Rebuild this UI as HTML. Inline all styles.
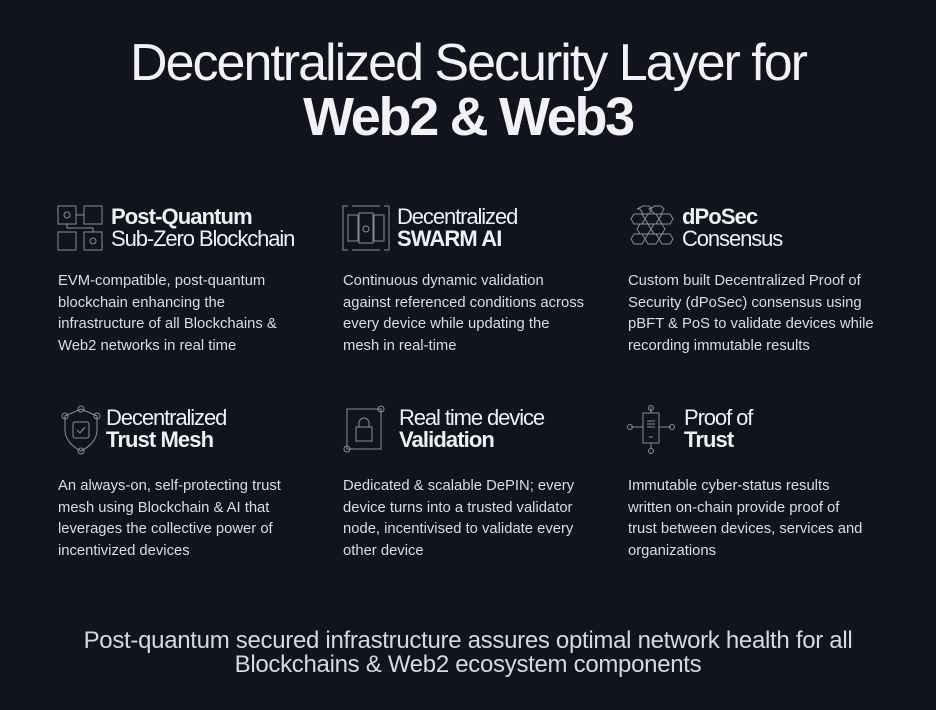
<!DOCTYPE html>
<html><head><style>
body{margin:0;width:936px;height:710px;background:#12141d;overflow:hidden;font-family:"Liberation Sans",sans-serif;color:#e8e9ee;position:relative}
.a{position:absolute}
.t1{top:33px;left:0;width:936px;text-align:center;font-size:52px;letter-spacing:-2px;color:#f2f2f4;font-weight:normal}
.t2{top:86px;left:0;width:936px;text-align:center;font-size:54px;font-weight:bold;letter-spacing:-2.3px;color:#f2f2f4}
.h{font-size:22px;line-height:22px;letter-spacing:-1.1px;color:#eef0f4}
.h b{letter-spacing:-0.9px}
.p{font-size:14.8px;line-height:21.5px;color:#dcdde2;width:250px}
.f{top:629px;left:0;width:936px;text-align:center;font-size:24px;line-height:24px;color:#d8d9de;letter-spacing:-0.3px}
svg{position:absolute;fill:none;stroke:#8a8d99;stroke-width:1}
</style></head><body>
<div class="a t1">Decentralized Security Layer for</div>
<div class="a t2">Web2 &amp; Web3</div>

<svg style="left:57px;top:205px" width="48" height="46"><rect x="1" y="1" width="18" height="18"/><circle cx="10" cy="10" r="3"/><rect x="27" y="1" width="18" height="18"/><rect x="1" y="27" width="18" height="18"/><rect x="27" y="27" width="18" height="18"/><circle cx="36" cy="36" r="3"/><path d="M19 10h8M10 19v4h26v4"/></svg>
<div class="a h" style="left:111px;top:206px"><b>Post-Quantum</b><br>Sub-Zero Blockchain</div>
<div class="a p" style="left:58px;top:271px">EVM-compatible, post-quantum blockchain enhancing the infrastructure of all Blockchains &amp; Web2 networks in real time</div>

<svg style="left:342px;top:205px" width="48" height="46"><path d="M6 1H1v44h5M42 1h5v44h-5M10 1h28M10 45h28"/><rect x="6" y="10" width="10" height="26"/><rect x="17" y="8" width="14" height="30"/><rect x="32" y="10" width="10" height="26"/><circle cx="24" cy="24" r="3"/></svg>
<div class="a h" style="left:397px;top:206px">Decentralized<br><b>SWARM AI</b></div>
<div class="a p" style="left:343px;top:271px;width:246px">Continuous dynamic validation against referenced conditions across every device while updating the mesh in real-time</div>

<svg style="left:627px;top:205px" width="48" height="46"><path d="M10 4l6-3h6l3 3-3 5h-6l-3-5zM22 4l6-3h6l3 3-3 5h-6zM4 14l3-5h8l3 5-3 5H7zM18 14l3-5h8l3 5-3 5h-8zM32 14l3-5h8l3 5-3 5h-8zM10 24l3-5h8l3 5-3 5h-8zM24 24l3-5h8l3 5-3 5h-8zM4 34l3-5h8l3 5-3 5H7zM18 34l3-5h8l3 5-3 5h-8zM32 34l3-5h8l3 5-3 5h-8z"/></svg>
<div class="a h" style="left:682px;top:206px"><b>dPoSec</b><br>Consensus</div>
<div class="a p" style="left:628px;top:271px;width:252px">Custom built Decentralized Proof of Security (dPoSec) consensus using pBFT &amp; PoS to validate devices while recording immutable results</div>

<svg style="left:57px;top:405px" width="48" height="50"><path d="M24 4l16 7v14c0 10-8 17-16 21C16 42 8 35 8 25V11z"/><rect x="16" y="17" width="16" height="16" rx="2"/><path d="M20 25l3 3 5-6"/><circle cx="24" cy="4" r="3"/><circle cx="8" cy="11" r="3"/><circle cx="40" cy="11" r="3"/><circle cx="24" cy="46" r="3"/></svg>
<div class="a h" style="left:106px;top:407px">Decentralized<br><b>Trust Mesh</b></div>
<div class="a p" style="left:58px;top:476px">An always-on, self-protecting trust mesh using Blockchain &amp; AI that leverages the collective power of incentivized devices</div>

<svg style="left:342px;top:405px" width="48" height="50"><rect x="5" y="4" width="34" height="40"/><circle cx="39" cy="4" r="3"/><circle cx="5" cy="44" r="3"/><rect x="14" y="22" width="16" height="14"/><path d="M17 22v-4a5 5 0 0 1 10 0v4"/></svg>
<div class="a h" style="left:399px;top:407px">Real time device<br><b>Validation</b></div>
<div class="a p" style="left:343px;top:476px;width:246px">Dedicated &amp; scalable DePIN; every device turns into a trusted validator node, incentivised to validate every other device</div>

<svg style="left:627px;top:405px" width="48" height="50"><rect x="16" y="8" width="16" height="30"/><path d="M20 16h8M20 19h8M20 22h8M22 32h4M24 2v6M24 38v6M4 22h12M32 22h12"/><circle cx="24" cy="3" r="2.5"/><circle cx="24" cy="46" r="2.5"/><circle cx="3" cy="22" r="2.5"/><circle cx="45" cy="22" r="2.5"/></svg>
<div class="a h" style="left:684px;top:407px">Proof of<br><b>Trust</b></div>
<div class="a p" style="left:628px;top:476px;width:240px">Immutable cyber-status results written on-chain provide proof of trust between devices, services and organizations</div>

<div class="a f">Post-quantum secured infrastructure assures optimal network health for all<br>Blockchains &amp; Web2 ecosystem components</div>
</body></html>
